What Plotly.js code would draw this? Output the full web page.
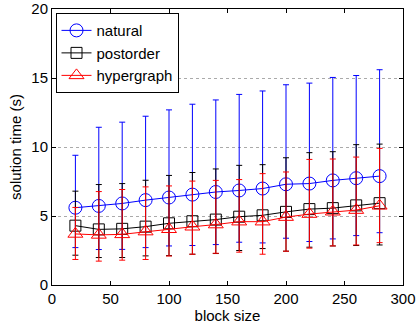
<!DOCTYPE html>
<html>
<head>
<meta charset="utf-8">
<script src="https://cdn.plot.ly/plotly-3.0.1.min.js"></script>
<style>html,body{margin:0;padding:0;background:#fff;}#chart{width:418px;height:326px;}</style>
</head>
<body>
<div id="chart"></div>
<script>
const blockSize = [20, 40, 60, 80, 100, 120, 140, 160, 180, 200, 220, 240, 260, 280];

const naturalMean  = [5.60, 5.73, 5.91, 6.15, 6.34, 6.55, 6.74, 6.85, 6.99, 7.30, 7.35, 7.58, 7.74, 7.89];
const naturalUpper = [9.40, 11.43, 11.80, 12.23, 12.69, 13.10, 13.41, 13.81, 14.06, 14.51, 14.63, 15.04, 15.18, 15.60];
const naturalLower = [2.71, 2.57, 2.58, 2.71, 2.83, 2.86, 2.93, 3.10, 3.05, 3.39, 3.15, 3.34, 3.58, 3.79];

const postorderMean  = [4.30, 4.03, 4.07, 4.23, 4.47, 4.62, 4.74, 4.95, 5.05, 5.30, 5.50, 5.57, 5.77, 5.93];
const postorderUpper = [6.80, 7.28, 7.35, 7.59, 7.94, 8.15, 8.41, 8.67, 8.72, 9.22, 9.59, 9.66, 10.17, 10.21];
const postorderLower = [2.16, 1.99, 1.99, 2.11, 2.13, 2.23, 2.28, 2.50, 2.64, 2.45, 2.74, 2.83, 2.86, 2.90];

const hyperMean  = [3.70, 3.63, 3.67, 3.87, 4.04, 4.22, 4.38, 4.59, 4.59, 4.92, 5.14, 5.31, 5.43, 5.74];
const hyperUpper = [5.62, 6.77, 6.92, 7.11, 7.18, 7.53, 7.58, 7.64, 8.07, 8.19, 9.10, 9.13, 9.27, 9.90];
const hyperLower = [1.85, 1.73, 1.80, 1.85, 2.10, 2.23, 2.30, 2.38, 2.23, 2.45, 2.67, 2.83, 2.90, 3.07];

const xTicks = [0, 50, 100, 150, 200, 250, 300];
const yTicks = [0, 5, 10, 15, 20];

function diff(a, b) { return a.map((v, i) => v - b[i]); }

function series(name, mean, upper, lower, color, symbol, size) {
  return {
    x: blockSize, y: mean, name: name,
    type: 'scatter', mode: 'lines+markers',
    line: {color: color, width: 1},
    marker: {symbol: symbol, size: size, color: color, line: {color: color, width: 1}},
    error_y: {type: 'data', symmetric: false, array: diff(upper, mean), arrayminus: diff(mean, lower),
              color: color, thickness: 1, width: 3}
  };
}

const data = [
  series('natural', naturalMean, naturalUpper, naturalLower, '#0000ff', 'circle-open', 13),
  series('postorder', postorderMean, postorderUpper, postorderLower, '#000000', 'square-open', 11),
  series('hypergraph', hyperMean, hyperUpper, hyperLower, '#ff0000', 'triangle-up-open', 13)
];

const font = {family: 'Liberation Sans, Arial, Helvetica, sans-serif', size: 15, color: '#000'};

const layout = {
  width: 418, height: 326,
  margin: {l: 52, r: 15, t: 9, b: 41},
  paper_bgcolor: '#fff', plot_bgcolor: '#fff',
  font: font,
  showlegend: true,
  legend: {x: 0.01, y: 0.985, xanchor: 'left', yanchor: 'top',
           bgcolor: '#fff', bordercolor: '#000', borderwidth: 1,
           font: font, tracegroupgap: 0, itemwidth: 30},
  xaxis: {
    range: [0, 300], tickvals: xTicks, ticktext: xTicks.map(String),
    ticks: 'inside', ticklen: 4, tickcolor: '#000', mirror: 'ticks',
    showline: true, linecolor: '#000', linewidth: 1,
    showgrid: false, zeroline: false,
    tickfont: font,
    title: {text: 'block size', font: font, standoff: 2}
  },
  yaxis: {
    range: [0, 20], tickvals: yTicks, ticktext: yTicks.map(String),
    ticks: 'inside', ticklen: 4, tickcolor: '#000', mirror: 'ticks',
    showline: true, linecolor: '#000', linewidth: 1,
    showgrid: true, gridcolor: '#aaaaaa', griddash: 'dot', gridwidth: 1,
    zeroline: false,
    tickfont: font,
    title: {text: 'solution time (s)', font: font, standoff: 6}
  }
};

Plotly.newPlot('chart', data, layout, {displayModeBar: false, staticPlot: true});
</script>
</body>
</html>
